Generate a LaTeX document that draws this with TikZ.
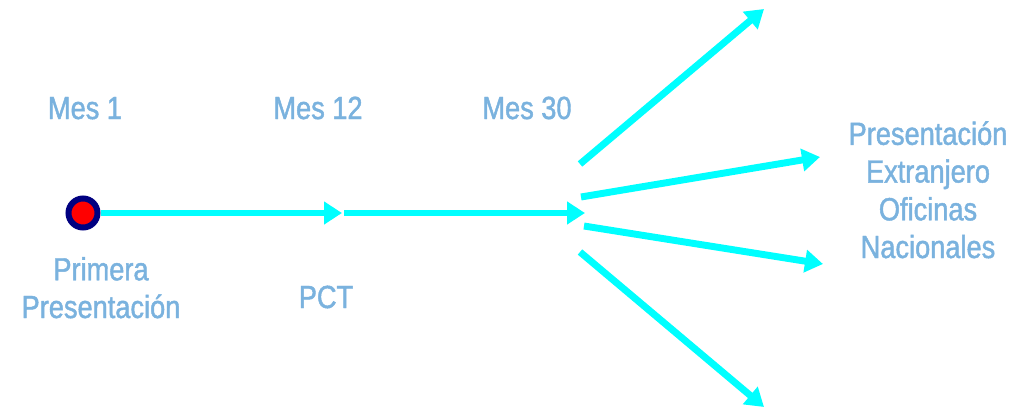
\documentclass[tikz,border=0pt]{standalone}
\usepackage{fontspec}
\setmainfont{Liberation Sans}[FakeStretch=0.85,FakeBold=1.4]
\usetikzlibrary{arrows.meta}
\definecolor{lbl}{RGB}{122,178,222}
\definecolor{cyanline}{RGB}{0,255,255}
\definecolor{navy}{RGB}{0,0,128}
\tikzset{
  lab/.style={text=lbl, font=\fontsize{24}{28.3}\selectfont, inner sep=0pt, align=center, anchor=base},
  flow/.style={draw=cyanline, line width=5.2pt, -{Triangle[length=13.5pt,width=16.5pt]}},
}
\begin{document}
\begin{tikzpicture}[x=0.75pt,y=-0.75pt]
\useasboundingbox (0,0) rectangle (1026,408);
% start point
\node (start) [circle, draw=navy, line width=4.5pt, fill=red, minimum size=21.75pt, inner sep=0pt] at (83,213) {};
\coordinate (m12) at (342,213);
\coordinate (m12b) at (344,213);
\coordinate (m30) at (585,213);
\coordinate (s1) at (580,164);
\coordinate (e1) at (764,9);
\coordinate (s2) at (581,197);
\coordinate (e2) at (820,157);
\coordinate (s3) at (584,226);
\coordinate (e3) at (823,264);
\coordinate (s4) at (580,252);
\coordinate (e4) at (764,407);
\draw[flow] (start) -- (m12);
\draw[flow] (m12b) -- (m30);
\draw[flow] (s1) -- (e1);
\draw[flow] (s2) -- (e2);
\draw[flow] (s3) -- (e3);
\draw[flow] (s4) -- (e4);
% labels
\node[lab] (mes1) at (85,119) {Mes 1};
\node[lab] (mes12) at (318,119) {Mes 12};
\node[lab] (mes30) at (527,119) {Mes 30};
\node[lab] (primera) at (101,318) {Primera\\Presentación};
\node[lab] (pct) at (326,308) {PCT};
\node[lab] (dest) at (928,258) {Presentación\\Extranjero\\Oficinas\\Nacionales};
\end{tikzpicture}
\end{document}
